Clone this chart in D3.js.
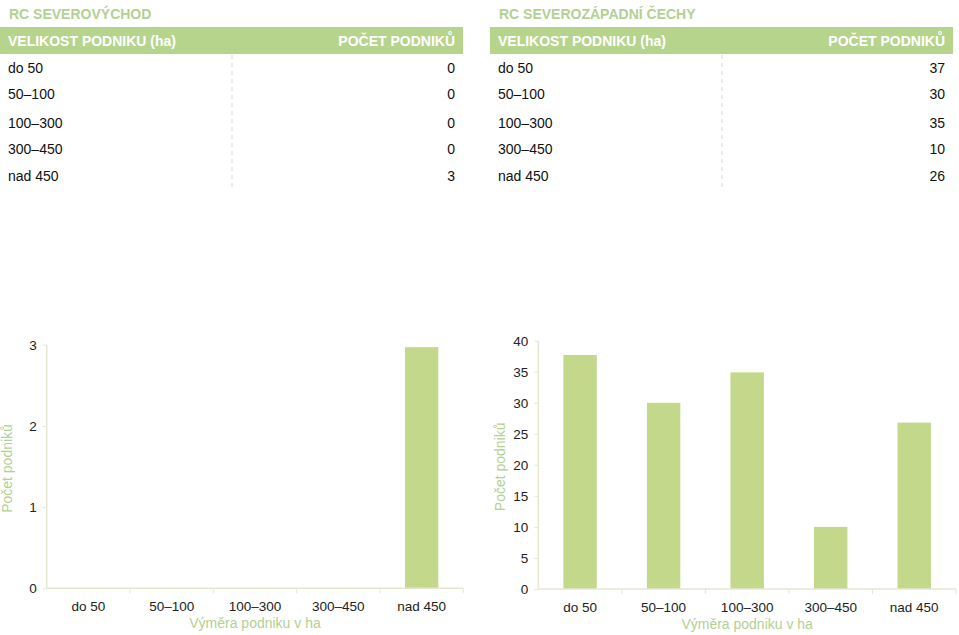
<!DOCTYPE html>
<html>
<head>
<meta charset="utf-8">
<script src="https://cdn.jsdelivr.net/npm/d3@7"></script>
<style>
  html, body { margin: 0; padding: 0; background: #fff; }
  svg { display: block; font-family: "Liberation Sans", Arial, Helvetica, sans-serif; }
</style>
</head>
<body>
<svg id="chart" width="959" height="635"></svg>
<script>
// ---- data ----
const categories = ["do 50", "50–100", "100–300", "300–450", "nad 450"];
const titleLeft = "RC SEVEROVÝCHOD";
const titleRight = "RC SEVEROZÁPADNÍ ČECHY";
const headerCols = ["VELIKOST PODNIKU (ha)", "POČET PODNIKŮ"];
const tableLeft = [0, 0, 0, 0, 3];
const tableRight = [37, 30, 35, 10, 26];
const barsLeft = [0, 0, 0, 0, 2.97];
const barsRight = [37.7, 30, 34.9, 10, 26.8];
const ticksLeft = [0, 1, 2, 3];
const ticksRight = [0, 5, 10, 15, 20, 25, 30, 35, 40];
const yAxisTitle = "Počet podniků";
const xAxisTitle = "Výměra podniku v ha";

// ---- styles ----
const green = "#b7d48d";
const barColor = "#c3d88b";
const titleGreen = "#b4d092";
const axisColor = "#e4e8d0";

const svg = d3.select("#chart");

function drawTable(x0, x1, sepX, title, values) {
  const g = svg.append("g");
  g.append("text").attr("x", x0 + 9).attr("y", 19)
    .attr("font-size", 14).attr("font-weight", "bold").attr("fill", titleGreen)
    .text(title);
  g.append("rect").attr("x", x0).attr("y", 27).attr("width", x1 - x0).attr("height", 27)
    .attr("fill", green);
  g.append("text").attr("x", x0 + 8).attr("y", 46)
    .attr("font-size", 14).attr("font-weight", "bold").attr("fill", "#fff")
    .text(headerCols[0]);
  g.append("text").attr("x", x1 - 8).attr("y", 46).attr("text-anchor", "end")
    .attr("font-size", 14).attr("font-weight", "bold").attr("fill", "#fff")
    .text(headerCols[1]);
  g.append("line").attr("x1", sepX).attr("x2", sepX).attr("y1", 55).attr("y2", 190)
    .attr("stroke", "#d4dcc4").attr("stroke-width", 1).attr("stroke-dasharray", "4,4");
  const rowCenters = [67.7, 94, 122.7, 149, 175.7];
  categories.forEach((c, i) => {
    g.append("text").attr("x", x0 + 8).attr("y", rowCenters[i] + 5)
      .attr("font-size", 14).attr("fill", "#111").text(c);
    g.append("text").attr("x", x1 - 8).attr("y", rowCenters[i] + 5)
      .attr("text-anchor", "end").attr("font-size", 14).attr("fill", "#111").text(values[i]);
  });
}

drawTable(0, 463, 232, titleLeft, tableLeft);
drawTable(490, 953, 722, titleRight, tableRight);

function drawChart(xLeft, xRight, yTop, yBottom, maxV, ticks, values, yTitleX) {
  const g = svg.append("g");
  const x = d3.scaleBand().domain(categories).range([xLeft, xRight]).paddingInner(0.6).paddingOuter(0.3);
  const xb = d3.scaleBand().domain(categories).range([xLeft, xRight]);
  const y = d3.scaleLinear().domain([0, maxV]).range([yBottom, yTop]);

  // bars
  g.selectAll("rect.bar").data(values).join("rect")
    .attr("class", "bar")
    .attr("x", (d, i) => x(categories[i]))
    .attr("width", x.bandwidth())
    .attr("y", d => y(d))
    .attr("height", d => yBottom - y(d))
    .attr("fill", barColor);

  // y axis
  const ya = g.append("g").attr("transform", `translate(${xLeft},0)`)
    .call(d3.axisLeft(y).tickValues(ticks).tickSize(4).tickPadding(6).tickFormat(d3.format("d")));
  ya.select(".domain").attr("stroke", axisColor).attr("stroke-width", 1.5).attr("d", `M-0,${yTop}V${yBottom}`);
  ya.selectAll(".tick line").attr("stroke", axisColor);
  ya.selectAll(".tick text").attr("font-size", 13.5).attr("fill", "#222")
    .attr("font-family", "'Liberation Sans', Arial, sans-serif");

  // x axis
  const xa = g.append("g").attr("transform", `translate(0,${yBottom})`)
    .call(d3.axisBottom(xb).tickSize(0).tickPadding(13));
  xa.select(".domain").attr("stroke", axisColor).attr("stroke-width", 1.5).attr("d", `M${xLeft},0H${xRight}`);
  xa.selectAll(".tick text").attr("font-size", 13.5).attr("fill", "#222")
    .attr("font-family", "'Liberation Sans', Arial, sans-serif");
  // separators between categories
  xa.selectAll("line.sep").data(categories).join("line")
    .attr("class", "sep")
    .attr("x1", d => xb(d) + xb.bandwidth()).attr("x2", d => xb(d) + xb.bandwidth())
    .attr("y1", 0).attr("y2", 5)
    .attr("stroke", axisColor).attr("stroke-width", 1);

  // axis titles
  g.append("text").attr("x", (xLeft + xRight) / 2).attr("y", yBottom + 40)
    .attr("text-anchor", "middle").attr("font-size", 14).attr("fill", titleGreen)
    .text(xAxisTitle);
  g.append("text")
    .attr("transform", `translate(${yTitleX},${(yTop + yBottom) / 2 + 2}) rotate(-90)`)
    .attr("text-anchor", "middle").attr("font-size", 14).attr("fill", titleGreen)
    .text(yAxisTitle);
}

drawChart(46.7, 463.3, 344.7, 588.3, 3, ticksLeft, barsLeft, 12);
drawChart(538.3, 956, 340.7, 589, 40, ticksRight, barsRight, 505);
</script>
</body>
</html>
